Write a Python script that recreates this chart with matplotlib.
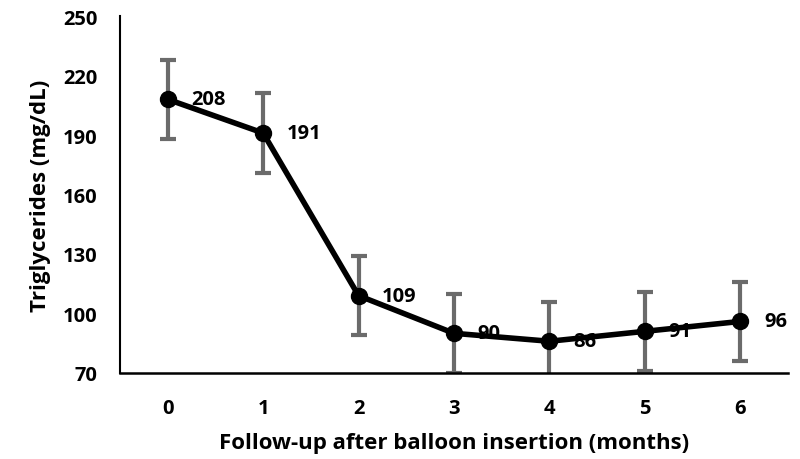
import matplotlib
matplotlib.use("Agg")
import matplotlib.pyplot as plt

months = [0, 1, 2, 3, 4, 5, 6]
tg_mean = [208, 191, 109, 90, 86, 91, 96]
tg_err = [20, 20, 20, 20, 20, 20, 20]
y_ticks = [70, 100, 130, 160, 190, 220, 250]

plt.rcParams['font.family'] = ['Open Sans', 'DejaVu Sans']
plt.rcParams['font.weight'] = 'bold'

fig = plt.figure(figsize=(8, 4.6), dpi=100)
ax = fig.add_axes([0.15, 0.187, 0.835, 0.776])

ax.errorbar(months, tg_mean, yerr=tg_err, fmt='none', ecolor='#6b6b6b',
            elinewidth=3, capsize=6, capthick=3, zorder=2)
for x, y in zip(months, tg_mean):
    ax.annotate(str(y), (x, y), xytext=(17, 0), textcoords='offset points',
                ha='left', va='center', fontsize=14.5, fontweight='bold',
                color='black', zorder=1)
ax.plot(months, tg_mean, color='black', lw=4, marker='o', ms=11.5, zorder=3,
        clip_on=False)

ax.set_xlim(-0.5, 6.5)
ax.set_ylim(70, 250)
ax.set_yticks(y_ticks)
ax.set_xticks(months)
ax.tick_params(length=0, labelsize=14.5)
for lab in ax.get_xticklabels() + ax.get_yticklabels():
    lab.set_fontweight('bold')
ax.tick_params(axis='y', pad=16)
ax.tick_params(axis='x', pad=18)
for s in ['top', 'right']:
    ax.spines[s].set_visible(False)
ax.spines['left'].set_linewidth(1.5)
ax.spines['bottom'].set_linewidth(1.8)

ax.set_xlabel('Follow-up after balloon insertion (months)', fontsize=16,
              fontweight='bold', labelpad=10)
ax.set_ylabel('Triglycerides (mg/dL)', fontsize=16, fontweight='bold',
              labelpad=9)

fig.savefig('out.png', dpi=100)
